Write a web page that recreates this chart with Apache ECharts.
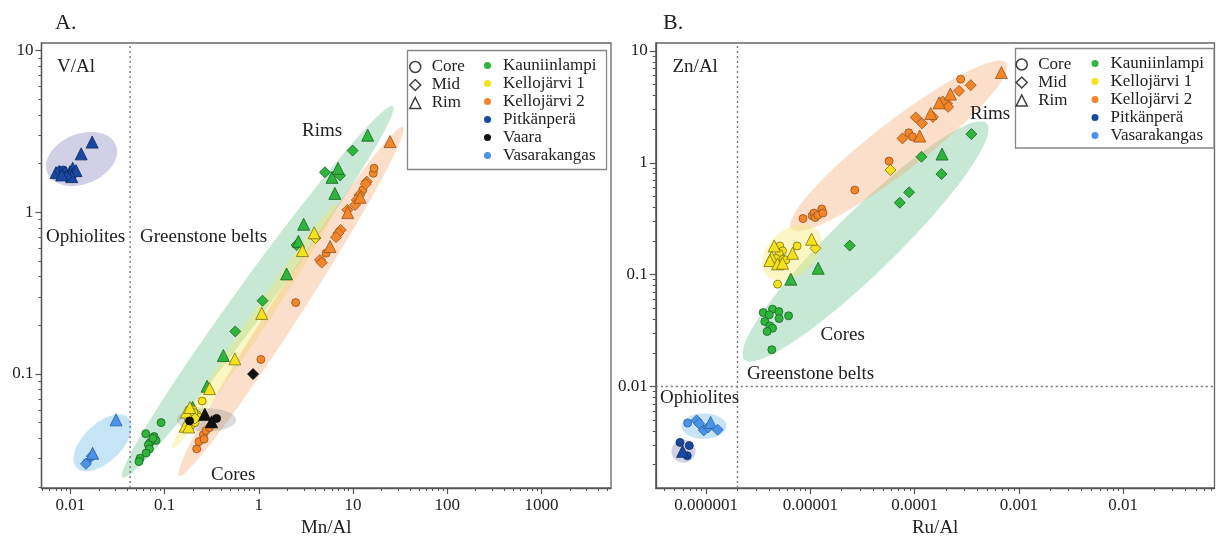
<!DOCTYPE html>
<html><head><meta charset="utf-8">
<script src="https://cdn.jsdelivr.net/npm/echarts@6/dist/echarts.min.js"></script>
<style>html,body{margin:0;padding:0;background:#fff}#c{width:1216px;height:537px}</style>
</head><body><div id="c"></div>
<script>
// ---------------- DATA ----------------
// shape code: 0 = Core, 1 = Mid, 2 = Rim
const shapeNames = ['Core', 'Mid', 'Rim'];
const siteNames = ['Kauniinlampi', 'Kellojärvi 1', 'Kellojärvi 2', 'Pitkänperä', 'Vaara', 'Vasarakangas'];

// Panel A: [Mn/Al, V/Al, shape]
const A_Kauniinlampi = [
  [0.0917,0.050,0],[0.063,0.0427,0],[0.0772,0.041,0],[0.081,0.0388,0],[0.070,0.0377,0],[0.0672,0.0365,0],
  [0.0689,0.0344,0],[0.0635,0.0324,0],[0.0548,0.0301,0],[0.0535,0.0287,0],[0.075,0.040,0],
  [0.562,0.1834,1],[1.094,0.284,1],[2.51,0.627,1],[5.03,1.77,1],[7.28,1.69,1],[9.9,2.41,1],
  [0.198,0.0621,2],[0.282,0.084,2],[0.42,0.130,2],[1.97,0.416,2],[2.63,0.662,2],[2.99,0.844,2],
  [6.41,1.31,2],[5.98,1.646,2],[6.93,1.87,2],[14.3,3.0,2]
];
const A_Kellojarvi1 = [
  [0.25,0.068,0],[0.18,0.052,0],[0.19,0.055,0],[0.20,0.050,0],[0.19,0.048,0],[0.20,0.060,0],[0.22,0.056,0],
  [0.21,0.050,0],[0.23,0.054,0],[0.205,0.0575,0],
  [0.21,0.053,1],[3.99,0.694,1],
  [0.17,0.058,2],[0.165,0.0475,2],[0.18,0.047,2],[0.185,0.062,2],[0.30,0.0812,2],[0.556,0.124,2],
  [1.074,0.237,2],[2.9,0.58,2],[3.87,0.747,2]
];
const A_Kellojarvi2 = [
  [0.219,0.0344,0],[0.2318,0.0382,0],[0.2577,0.042,0],[0.275,0.0447,0],[0.298,0.0466,0],[0.262,0.0395,0],
  [1.05,0.123,0],[2.46,0.2764,0],[5.17,0.5585,0],[12.68,1.375,0],[16.4,1.745,0],[16.7,1.874,0],
  [13.98,1.549,1],[13.64,1.498,1],[11.67,1.281,1],[10.95,1.193,1],[10.5,1.111,1],[8.7,1.035,1],
  [7.4,0.778,1],[6.98,0.743,1],[6.6,0.702,1],[4.46,0.5077,1],[4.65,0.4886,1],
  [24.7,2.74,2],[11.87,1.24,2],[8.78,0.996,2],[5.7,0.614,2]
];
const A_Pitkanpera = [
  [0.00703,1.76,2],[0.00762,1.803,1],[0.0084,1.829,0],[0.00877,1.76,1],[0.00927,1.703,0],[0.0099,1.785,2],
  [0.01057,1.874,2],[0.01073,1.745,1],[0.01147,1.811,2],[0.01032,1.663,2],[0.00913,1.663,1],[0.00809,1.703,2],
  [0.013,2.3,2],[0.017,2.72,2]
];
const A_Vaara = [[0.184,0.0512,0],[0.356,0.0531,0],[0.267,0.0563,2],[0.315,0.0506,2],[0.868,0.0998,1]];
const A_Vasarakangas = [[0.0149,0.0283,0],[0.0146,0.0278,1],[0.0168,0.031,1],[0.0172,0.0323,2],[0.0305,0.052,2]];

// Panel B: [Ru/Al, Zn/Al, shape]
const B_Kauniinlampi = [
  [3.53e-6,0.0458,0],[4.34e-6,0.0491,0],[4.99e-6,0.0467,0],[4.03e-6,0.0437,0],[6.18e-6,0.0428,0],[3.66e-6,0.0381,0],
  [5.02e-6,0.0405,0],[4.09e-6,0.0348,0],[4.34e-6,0.0332,0],[3.85e-6,0.031,0],[4.27e-6,0.0213,0],
  [2.39e-5,0.1816,1],[7.21e-5,0.4395,1],[8.86e-5,0.544,1],[1.165e-4,1.131,1],[1.81e-4,0.793,1],[3.51e-4,1.804,1],
  [6.5e-6,0.091,2],[1.188e-5,0.114,2],[1.835e-4,1.196,2]
];
const B_Kellojarvi1 = [
  [5.1e-6,0.1804,0],[5.41e-6,0.163,0],[5.02e-6,0.1552,0],[5.48e-6,0.1373,0],[5.82e-6,0.1353,0],[7.47e-6,0.1804,0],
  [4.85e-6,0.0821,0],[4.69e-6,0.1395,0],
  [1.12e-5,0.172,1],[5.87e-5,0.861,1],
  [4.5e-6,0.1804,2],[4.25e-6,0.143,2],[4.09e-6,0.1334,2],[4.85e-6,0.1246,2],[5.41e-6,0.1264,2],[6.75e-6,0.1552,2],[1.027e-5,0.207,2]
];
const B_Kellojarvi2 = [
  [8.5e-6,0.317,0],[1.04e-5,0.336,0],[1.083e-5,0.355,0],[1.112e-5,0.324,0],[1.18e-5,0.34,0],[1.288e-5,0.386,0],
  [1.32e-5,0.355,0],[2.67e-5,0.5705,0],[5.69e-5,1.036,0],[8.8e-5,1.853,0],[9.55e-5,1.707,0],[2.77e-4,5.59,0],
  [7.66e-5,1.652,1],[1.027e-4,2.54,1],[1.18e-4,2.25,1],[1.5e-4,2.57,1],[2.05e-4,3.39,1],[2.1e-4,3.16,1],
  [1.86e-4,3.53,1],[2.67e-4,4.39,1],[3.46e-4,4.94,1],
  [1.12e-4,1.731,2],[1.43e-4,2.76,2],[1.72e-4,3.43,2],[2.21e-4,4.11,2],[6.81e-4,6.41,2]
];
const B_Pitkanpera = [[5.61e-7,0.00316,0],[6.89e-7,0.00296,0],[6.59e-7,0.0024,0],[5.95e-7,0.00263,2]];
const B_Vasarakangas = [
  [6.65e-7,0.00471,0],[8.11e-7,0.00497,1],[8.58e-7,0.00465,1],[9.52e-7,0.00405,1],[1.047e-6,0.0043,1],
  [1.104e-6,0.00477,2],[1.289e-6,0.0041,1]
];

// Field regions (ellipses): major-axis end 1 (x,y), major-axis end 2 (x,y), end of minor axis (x,y)
const A_regionPitkanpera   = [0.00567, 1.755, 0.0303, 2.607, 0.01651, 1.538];
const A_regionVasarakangas = [0.01164, 0.02625, 0.0413, 0.0535, 0.03027, 0.03083];
const A_regionKauniinlampi = [0.0357, 0.02285, 26.6, 4.55, 1.364, 0.2798];
const A_regionKellojarvi1  = [0.12, 0.0346, 6.6, 1.114, 1.068, 0.1829];
const A_regionKellojarvi2  = [0.1422, 0.02344, 33.95, 3.375, 2.99, 0.2505];
const A_regionVaara        = [0.134, 0.052, 0.573, 0.052, 0.2772, 0.04406];
const B_regionPitkanpera   = [4.65e-7, 0.002638, 7.9e-7, 0.002638, 6.06e-7, 0.002083];
const B_regionVasarakangas = [5.82e-7, 0.004419, 1.565e-6, 0.004419, 9.55e-7, 0.003404];
const B_regionKauniinlampi = [2.33e-6, 0.01745, 4.92e-4, 2.247, 5.46e-5, 0.1256];
const B_regionKellojarvi2  = [6.56e-6, 0.257, 7.6e-4, 7.81, 9.89e-5, 0.9432];
const B_regionKellojarvi1  = [3.74e-6, 0.1006, 1.18e-5, 0.2475, 9.21e-6, 0.1099];

// Divider lines
const A_dividerX = 0.043;
const B_dividerX = 0.000002;
const B_dividerY = 0.01;

// Axis ranges and ticks
const A_xRange = [0.00493, 5470];
const A_yRange = [0.0197, 11.16];
const B_xRange = [3.29e-7, 0.0755];
const B_yRange = [0.001236, 11.77];
const A_xTicks = [0.01, 0.1, 1, 10, 100, 1000];
const A_xTickLabels = ['0.01', '0.1', '1', '10', '100', '1000'];
const A_yTicks = [0.1, 1, 10];
const A_yTickLabels = ['0.1', '1', '10'];
const B_xTicks = [0.000001, 0.00001, 0.0001, 0.001, 0.01];
const B_xTickLabels = ['0.000001', '0.00001', '0.0001', '0.001', '0.01'];
const B_yTicks = [0.01, 0.1, 1, 10];
const B_yTickLabels = ['0.01', '0.1', '1', '10'];

// ---------------- BUILD ----------------
const SERIF = '"Liberation Serif", "Times New Roman", serif';
const TXT = '#222';
const AX = '#555';
const SHAPES = ['circle', 'diamond', 'triangle'];
const SIZES = [8, 11, 12];

const siteColors = {
  'Kauniinlampi': ['#2db53c', '#1d5f24'],
  'Kellojärvi 1': ['#f4e21c', '#7a6f10'],
  'Kellojärvi 2': ['#f4862a', '#94501c'],
  'Pitkänperä':   ['#1848a0', '#0c2a60'],
  'Vaara':        ['#111111', '#000000'],
  'Vasarakangas': ['#4b93e8', '#2a5e9e']
};
const regionColors = {
  green: 'rgba(105,195,145,0.38)', yellow: 'rgba(245,235,110,0.40)', orange: 'rgba(245,165,110,0.36)',
  lavender: 'rgba(130,125,185,0.36)', blue: 'rgba(110,190,235,0.40)', gray: 'rgba(140,140,140,0.30)'
};

function minorTicks(range) {
  const out = [];
  const e0 = Math.floor(Math.log10(range[0])), e1 = Math.ceil(Math.log10(range[1]));
  for (let e = e0; e <= e1; e++) for (let m = 2; m <= 9; m++) {
    const v = +(m * Math.pow(10, e)).toPrecision(6);
    if (v >= range[0] && v <= range[1]) out.push(v);
  }
  return out;
}
function fmt(ticks, labels) {
  return function (v) {
    for (let i = 0; i < ticks.length; i++) if (Math.abs(Math.log10(v) - Math.log10(ticks[i])) < 1e-6) return labels[i];
    return '';
  };
}
function mainAxis(grid, range, ticks, labels, pos, margin, name) {
  return {
    type: 'log', logBase: 10, gridIndex: grid, min: range[0], max: range[1], position: pos,
    name: name || '', nameLocation: 'middle', nameGap: 30,
    nameTextStyle: { fontFamily: SERIF, fontSize: 19, color: TXT },
    axisLine: { show: true, onZero: false, lineStyle: { color: AX, width: 1.3 } },
    axisTick: { show: true, inside: false, length: 6, customValues: ticks, lineStyle: { color: AX, width: 1.2 } },
    axisLabel: { show: true, customValues: ticks, formatter: fmt(ticks, labels), margin: margin,
      fontFamily: SERIF, fontSize: 17, color: TXT, hideOverlap: false },
    splitLine: { show: false }, minorTick: { show: false }, minorSplitLine: { show: false }
  };
}
function minorAxis(grid, range, pos) {
  return {
    type: 'log', logBase: 10, gridIndex: grid, min: range[0], max: range[1], position: pos,
    axisLine: { show: false, onZero: false },
    axisTick: { show: true, inside: false, length: 3, customValues: minorTicks(range), lineStyle: { color: AX, width: 1 } },
    axisLabel: { show: false }, splitLine: { show: false }
  };
}
function ellipseItem(params, api) {
  const p1 = api.coord([api.value(0), api.value(1)]);
  const p2 = api.coord([api.value(2), api.value(3)]);
  const p3 = api.coord([api.value(4), api.value(5)]);
  const cx = (p1[0] + p2[0]) / 2, cy = (p1[1] + p2[1]) / 2;
  const dx = p2[0] - p1[0], dy = p2[1] - p1[1];
  const a = Math.hypot(dx, dy) / 2;
  const ux = dx / (2 * a), uy = dy / (2 * a);
  const nx = -uy, ny = ux;
  const b = Math.abs((p3[0] - cx) * nx + (p3[1] - cy) * ny);
  const pts = [];
  for (let i = 0; i < 120; i++) {
    const t = i / 120 * 2 * Math.PI;
    const ca = Math.cos(t) * a, sb = Math.sin(t) * b;
    pts.push([cx + ca * ux + sb * nx, cy + ca * uy + sb * ny]);
  }
  return { type: 'polygon', shape: { points: pts }, style: api.style({ stroke: null, lineWidth: 0 }) };
}
function region(region, axis, color) {
  return { type: 'custom', name: 'region', xAxisIndex: axis, yAxisIndex: axis, silent: true, z: 1,
    renderItem: ellipseItem, itemStyle: { color: color, borderWidth: 0 }, data: [region], clip: true };
}
function sites(name, data, axis) {
  return { type: 'scatter', name: name, xAxisIndex: axis, yAxisIndex: axis, data: data, z: 3,
    symbol: function (v) { return SHAPES[v[2]]; },
    symbolSize: function (v) { return SIZES[v[2]]; },
    itemStyle: { color: siteColors[name][0], borderColor: siteColors[name][1], borderWidth: 0.8, opacity: 1 },
    emphasis: { disabled: true } };
}
// dotted divider drawn as a two-point line through the axes
function divider(axis, points) {
  return { type: 'line', name: 'divider', xAxisIndex: axis, yAxisIndex: axis, data: points, z: 2,
    symbol: 'none', silent: true, clip: false,
    lineStyle: { type: [2, 3], color: '#777', width: 1.4 }, emphasis: { disabled: true } };
}
const shapeLegendSeries = shapeNames.map(function (n, i) {
  return { type: 'scatter', name: n, data: [], symbol: SHAPES[i], xAxisIndex: 0, yAxisIndex: 0,
    itemStyle: { color: '#fff', borderColor: '#111', borderWidth: 1.5 } };
});

const legendText = { fontFamily: SERIF, fontSize: 17, color: TXT, lineHeight: 17 };
function shapeLegend(left, top) {
  return { left: left, top: top, orient: 'vertical', padding: 0, itemGap: 1, itemWidth: 11, itemHeight: 11,
    selectedMode: false, z: 10,
    data: shapeNames.map(function (n, i) { return { name: n, icon: SHAPES[i] }; }),
    itemStyle: { color: '#fff', borderColor: '#111', borderWidth: 1.5 },
    textStyle: Object.assign({ padding: [0, 0, 0, 6] }, legendText) };
}
function siteLegend(left, top, names) {
  return { left: left, top: top, orient: 'vertical', padding: 0, itemGap: 1, itemWidth: 7, itemHeight: 7,
    selectedMode: false, z: 10,
    data: names.map(function (n) { return { name: n, icon: 'circle' }; }),
    itemStyle: { borderWidth: 0 },
    textStyle: Object.assign({ padding: [0, 0, 0, 7] }, legendText) };
}
function label(text, x, y, size) {
  return { type: 'text', z: 20, style: { text: text, x: x, y: y, fill: TXT, fontFamily: SERIF, fontSize: size || 19,
    textAlign: 'left', textVerticalAlign: 'middle', align: 'left', verticalAlign: 'middle' } };
}

const option = {
  animation: false,
  backgroundColor: '#fff',
  grid: [
    { left: 41.5, top: 43, width: 569.5, height: 445, show: true, borderColor: '#666', borderWidth: 1.3,
      backgroundColor: 'transparent', containLabel: false, outerBoundsMode: 'none' },
    { left: 655.8, top: 43, width: 558.7, height: 445, show: true, borderColor: '#666', borderWidth: 1.3,
      backgroundColor: 'transparent', containLabel: false, outerBoundsMode: 'none' }
  ],
  xAxis: [
    mainAxis(0, A_xRange, A_xTicks, A_xTickLabels, 'bottom', 9, 'Mn/Al'),
    minorAxis(0, A_xRange, 'bottom'),
    mainAxis(1, B_xRange, B_xTicks, B_xTickLabels, 'bottom', 9, 'Ru/Al'),
    minorAxis(1, B_xRange, 'bottom')
  ],
  yAxis: [
    mainAxis(0, A_yRange, A_yTicks, A_yTickLabels, 'left', 8),
    minorAxis(0, A_yRange, 'left'),
    mainAxis(1, B_yRange, B_yTicks, B_yTickLabels, 'left', 8),
    minorAxis(1, B_yRange, 'left')
  ],
  legend: [
    shapeLegend(409, 58.5),
    siteLegend(484, 57, siteNames),
    shapeLegend(1015.5, 56),
    siteLegend(1091.5, 55, ['Kauniinlampi', 'Kellojärvi 1', 'Kellojärvi 2', 'Pitkänperä', 'Vasarakangas'])
  ],
  graphic: [
    { type: 'rect', z: 5, shape: { x: 407.5, y: 50.5, width: 199, height: 119 }, style: { fill: '#fff', stroke: '#888', lineWidth: 1.3 } },
    { type: 'rect', z: 5, shape: { x: 1015.5, y: 48.5, width: 198.5, height: 99.5 }, style: { fill: '#fff', stroke: '#888', lineWidth: 1.3 } },
    label('A.', 55, 23, 22), label('V/Al', 57, 67.5), label('Ophiolites', 46, 237.5), label('Greenstone belts', 140, 237.5),
    label('Rims', 302, 131), label('Cores', 211, 475),
    label('B.', 663, 23, 22), label('Zn/Al', 672.5, 67.5), label('Rims', 970, 114), label('Cores', 820.5, 335),
    label('Greenstone belts', 747, 374), label('Ophiolites', 660, 398.5)
  ],
  series: [
    region(A_regionPitkanpera, 0, regionColors.lavender),
    region(A_regionVasarakangas, 0, regionColors.blue),
    region(A_regionKauniinlampi, 0, regionColors.green),
    region(A_regionKellojarvi1, 0, regionColors.yellow),
    region(A_regionKellojarvi2, 0, regionColors.orange),
    region(A_regionVaara, 0, regionColors.gray),
    region(B_regionPitkanpera, 2, regionColors.lavender),
    region(B_regionVasarakangas, 2, regionColors.blue),
    region(B_regionKauniinlampi, 2, regionColors.green),
    region(B_regionKellojarvi2, 2, regionColors.orange),
    region(B_regionKellojarvi1, 2, regionColors.yellow),
    divider(0, [[A_dividerX, A_yRange[0]], [A_dividerX, A_yRange[1]]]),
    divider(2, [[B_dividerX, B_yRange[0]], [B_dividerX, B_yRange[1]]]),
    divider(2, [[B_xRange[0], B_dividerY], [B_xRange[1], B_dividerY]]),
    sites('Kauniinlampi', A_Kauniinlampi, 0),
    sites('Kellojärvi 1', A_Kellojarvi1, 0),
    sites('Kellojärvi 2', A_Kellojarvi2, 0),
    sites('Pitkänperä', A_Pitkanpera, 0),
    sites('Vaara', A_Vaara, 0),
    sites('Vasarakangas', A_Vasarakangas, 0),
    sites('Kauniinlampi', B_Kauniinlampi, 2),
    sites('Kellojärvi 1', B_Kellojarvi1, 2),
    sites('Kellojärvi 2', B_Kellojarvi2, 2),
    sites('Pitkänperä', B_Pitkanpera, 2),
    sites('Vasarakangas', B_Vasarakangas, 2)
  ].concat(shapeLegendSeries)
};

const chart = echarts.init(document.getElementById('c'), null, { renderer: 'canvas', width: 1216, height: 537 });
chart.setOption(option);
</script></body></html>
